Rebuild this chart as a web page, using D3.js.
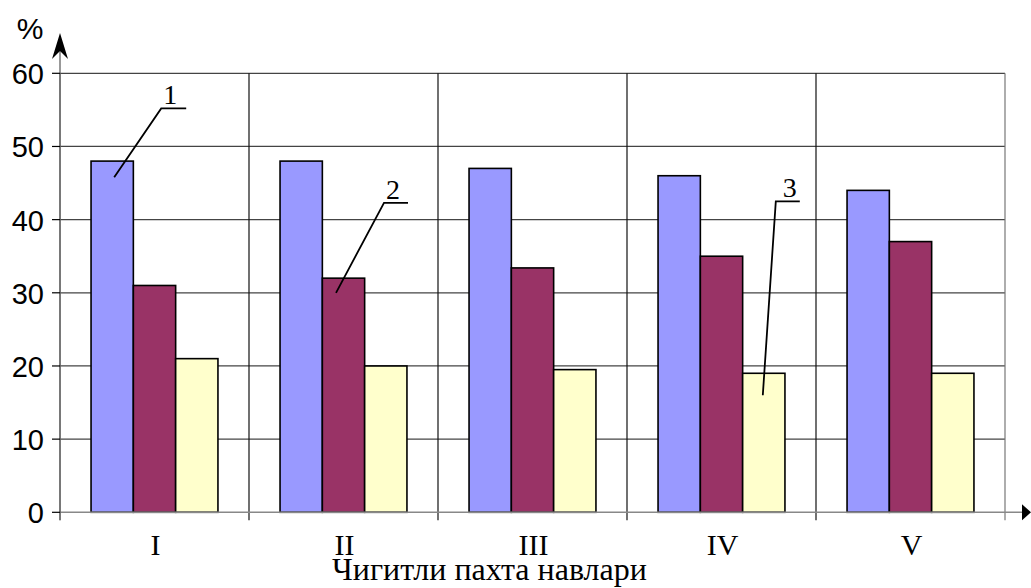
<!DOCTYPE html>
<html>
<head>
<meta charset="utf-8">
<script src="https://cdn.jsdelivr.net/npm/d3@7"></script>
<style>
  html, body { margin: 0; padding: 0; background: #fff; }
  svg { display: block; }
</style>
</head>
<body>
<svg id="chart" width="1031" height="588"></svg>
<script>
// Categories (cotton varieties) and the three series, in percent
const categories = ["I", "II", "III", "IV", "V"];
const series1 = [48, 48, 47, 46, 44];
const series2 = [31, 32, 33.4, 35, 37];
const series3 = [21, 20, 19.5, 19, 19];
const yTicks = [0, 10, 20, 30, 40, 50, 60];
const seriesColors = ["#9999ff", "#993366", "#ffffcc"];

// Leader-line callouts naming each series
const callouts = [
  { label: "1", cat: "I",  series: 0, tipValue: 45.8, tipDx: 2,    elbowValue: 55.2, elbowDx: 49,   endDx: 74,   labelDx: 58 },
  { label: "2", cat: "II", series: 1, tipValue: 30.0, tipDx: -7.5, elbowValue: 42.3, elbowDx: 40.5, endDx: 64.5, labelDx: 49.5 },
  { label: "3", cat: "IV", series: 2, tipValue: 16.0, tipDx: -1,   elbowValue: 42.5, elbowDx: 12,   endDx: 36,   labelDx: 26 }
];

(function draw() {
  const svg = d3.select("#chart");
  const mLeft = 60, mRight = 1005, mTop = 73.3, mBottom = 512.3;

  const x = d3.scaleBand().domain(categories).range([mLeft, mRight]).padding(0);
  const xs = d3.scaleBand().domain([0, 1, 2]).range([0, x.bandwidth()])
    .paddingInner(0).paddingOuter(0.734);
  const y = d3.scaleLinear().domain([0, 60]).range([mBottom, mTop]);

  const data = categories.map((c, i) => ({ cat: c, values: [series1[i], series2[i], series3[i]] }));

  // Horizontal gridlines
  svg.append("g").selectAll("line").data(yTicks.filter(t => t > 0)).join("line")
    .attr("x1", mLeft).attr("x2", mRight)
    .attr("y1", d => y(d)).attr("y2", d => y(d))
    .attr("stroke", "#444").attr("stroke-width", 1.2);

  // Vertical category separators, extending below the axis as ticks
  const bounds = categories.map(c => x(c)).concat([mRight]);
  svg.append("g").selectAll("line").data(bounds).join("line")
    .attr("x1", d => d).attr("x2", d => d)
    .attr("y1", mTop).attr("y2", mBottom + 8)
    .attr("stroke", (d, i) => (i === 0 || i === bounds.length - 1) ? "#777" : "#111")
    .attr("stroke-width", 1.2);

  // Bars
  const groups = svg.append("g").selectAll("g").data(data).join("g")
    .attr("transform", d => `translate(${x(d.cat)},0)`);
  groups.selectAll("rect").data(d => d.values.map((v, k) => ({ v, k }))).join("rect")
    .attr("x", d => xs(d.k))
    .attr("width", xs.bandwidth())
    .attr("y", d => y(d.v))
    .attr("height", d => y(0) - y(d.v))
    .attr("fill", d => seriesColors[d.k])
    .attr("stroke", "#000").attr("stroke-width", 1.6);

  // X axis line with arrow
  svg.append("line").attr("x1", mLeft).attr("x2", 1024)
    .attr("y1", mBottom).attr("y2", mBottom)
    .attr("stroke", "#888").attr("stroke-width", 1.6);
  svg.append("path")
    .attr("d", `M1031,${mBottom} L1022,${mBottom - 8} L1022,${mBottom + 8} Z`)
    .attr("fill", "#000");

  // Y axis line with arrow
  svg.append("line").attr("x1", mLeft).attr("x2", mLeft)
    .attr("y1", mBottom + 8).attr("y2", 45)
    .attr("stroke", "#555").attr("stroke-width", 1.2);
  svg.append("path")
    .attr("d", `M${mLeft},33 L${mLeft - 8},59 L${mLeft},51 L${mLeft + 8},59 Z`)
    .attr("fill", "#000");

  // Y ticks and labels
  const yAxis = svg.append("g");
  yAxis.selectAll("line").data(yTicks).join("line")
    .attr("x1", mLeft - 8).attr("x2", mLeft)
    .attr("y1", d => y(d)).attr("y2", d => y(d))
    .attr("stroke", "#000").attr("stroke-width", 1.2);
  yAxis.selectAll("text").data(yTicks).join("text")
    .attr("x", 44).attr("y", d => y(d) + 11)
    .attr("text-anchor", "end")
    .attr("font-family", "'Liberation Sans', Arial, sans-serif")
    .attr("font-size", 29)
    .text(d => d);

  svg.append("text").attr("x", 30).attr("y", 39)
    .attr("text-anchor", "middle")
    .attr("font-family", "'Liberation Sans', Arial, sans-serif")
    .attr("font-size", 30)
    .text("%");

  // Category labels
  svg.append("g").selectAll("text").data(categories).join("text")
    .attr("x", d => x(d) + x.bandwidth() / 2 + 1)
    .attr("y", 555)
    .attr("text-anchor", "middle")
    .attr("font-family", "'Liberation Serif', 'Times New Roman', serif")
    .attr("font-size", 30)
    .text(d => d);

  // Axis title
  svg.append("text").attr("x", 332).attr("y", 580)
    .attr("font-family", "'Liberation Serif', 'Times New Roman', serif")
    .attr("font-size", 32)
    .text("Чигитли пахта навлари");

  // Callouts
  const cg = svg.append("g");
  callouts.forEach(c => {
    const cx = x(c.cat) + xs(c.series) + xs.bandwidth() / 2;
    const ty = y(c.tipValue), ey = y(c.elbowValue);
    cg.append("path")
      .attr("d", `M${cx + c.tipDx},${ty} L${cx + c.elbowDx},${ey} L${cx + c.endDx},${ey}`)
      .attr("fill", "none").attr("stroke", "#000").attr("stroke-width", 1.8);
    cg.append("text")
      .attr("x", cx + c.labelDx).attr("y", ey - 4)
      .attr("text-anchor", "middle")
      .attr("font-family", "'Liberation Serif', 'Times New Roman', serif")
      .attr("font-size", 28)
      .text(c.label);
  });
})();
</script>
</body>
</html>
